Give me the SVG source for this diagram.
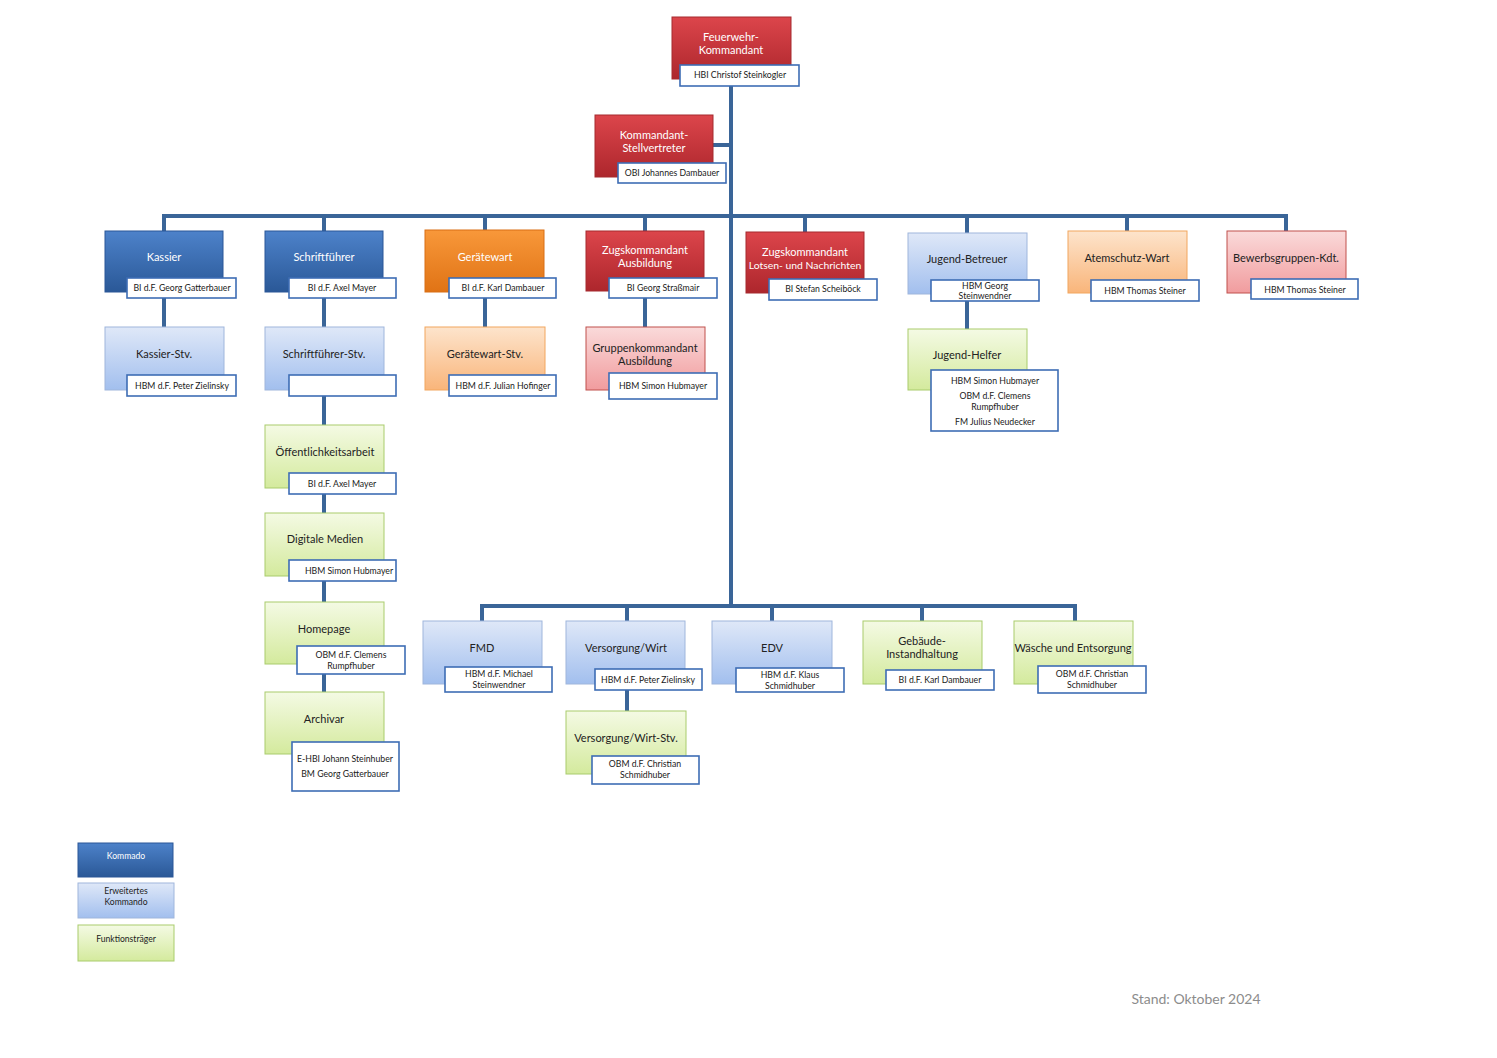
<svg xmlns="http://www.w3.org/2000/svg" width="1497" height="1058" viewBox="0 0 1497 1058">
<defs>
<linearGradient id="gDark" x1="0" y1="0" x2="0" y2="1"><stop offset="0" stop-color="#4d82ca"/><stop offset="1" stop-color="#2a5897"/></linearGradient>
<linearGradient id="gRed" x1="0" y1="0" x2="0" y2="1"><stop offset="0" stop-color="#dc454b"/><stop offset="1" stop-color="#ad262c"/></linearGradient>
<linearGradient id="gOrange" x1="0" y1="0" x2="0" y2="1"><stop offset="0" stop-color="#f8983a"/><stop offset="1" stop-color="#e07315"/></linearGradient>
<linearGradient id="gLBlue" x1="0" y1="0" x2="0" y2="1"><stop offset="0" stop-color="#dfe8f8"/><stop offset="1" stop-color="#a2bfee"/></linearGradient>
<linearGradient id="gLOrange" x1="0" y1="0" x2="0" y2="1"><stop offset="0" stop-color="#fde4cc"/><stop offset="1" stop-color="#f9b57a"/></linearGradient>
<linearGradient id="gLRed" x1="0" y1="0" x2="0" y2="1"><stop offset="0" stop-color="#fadada"/><stop offset="1" stop-color="#f19c9e"/></linearGradient>
<linearGradient id="gGreen" x1="0" y1="0" x2="0" y2="1"><stop offset="0" stop-color="#f4fae4"/><stop offset="1" stop-color="#d4ea9d"/></linearGradient>
</defs>
<style>
text{font-family:Lato,"Liberation Sans",sans-serif;text-anchor:middle}
.t{font-size:11px;fill:#222}
.tw{font-size:11px;fill:#fff}
.n{font-size:8.7px;fill:#1a1a1a}
.lg{font-size:8.6px;fill:#222}
.dark{fill:url(#gDark);stroke:#2b5797;stroke-width:1}
.red{fill:url(#gRed);stroke:#a52a2e;stroke-width:1}
.orange{fill:url(#gOrange);stroke:#d96f14;stroke-width:1}
.lblue{fill:url(#gLBlue);stroke:#9fb6dc;stroke-width:1}
.lorange{fill:url(#gLOrange);stroke:#f2a65e;stroke-width:1}
.lred{fill:url(#gLRed);stroke:#c0504d;stroke-width:1}
.green{fill:url(#gGreen);stroke:#a9cc6c;stroke-width:1}
.nb{fill:#fff;stroke:#3e6db5;stroke-width:1.6}
.c{stroke:#3a6598;stroke-width:4;fill:none}
</style>
<rect width="1497" height="1058" fill="#fff"/>

<g id="connectors">
<path class="c" d="M731 86 V606"/>
<path class="c" d="M713 145 H731"/>
<path class="c" d="M164 231 V216 H1286 V231"/>
<path class="c" d="M324 216 V231 M485 216 V230 M645 216 V231 M805 216 V232 M967 216 V233 M1127 216 V231"/>
<path class="c" d="M164 298 V327 M324 298 V692 M485 298 V327 M645 298 V327 M967 301 V329"/>
<path class="c" d="M482 621 V606 H1075 V621 M627 606 V621 M772 606 V621 M922 606 V621"/>
<path class="c" d="M627 690 V711"/>
</g>

<g id="kommandant">
<rect class="red" x="672" y="17" width="119" height="62"/>
<text class="tw" x="731" y="41">Feuerwehr-</text>
<text class="tw" x="731" y="54">Kommandant</text>
<rect class="nb" x="680" y="65" width="119" height="21"/>
<text class="n" x="740" y="78">HBI Christof Steinkogler</text>
</g>

<g id="stellvertreter">
<rect class="red" x="595" y="115" width="118" height="62"/>
<text class="tw" x="654" y="139">Kommandant-</text>
<text class="tw" x="654" y="152">Stellvertreter</text>
<rect class="nb" x="618" y="163" width="108" height="20"/>
<text class="n" x="672" y="176">OBI Johannes Dambauer</text>
</g>

<g id="kassier">
<rect class="dark" x="105" y="231" width="118" height="61"/>
<text class="tw" x="164" y="261">Kassier</text>
<rect class="nb" x="127" y="278" width="109" height="20"/>
<text class="n" x="182" y="291">BI d.F. Georg Gatterbauer</text>
</g>

<g id="schriftfuehrer">
<rect class="dark" x="265" y="231" width="118" height="61"/>
<text class="tw" x="324" y="261">Schriftführer</text>
<rect class="nb" x="289" y="278" width="107" height="20"/>
<text class="n" x="342" y="291">BI d.F. Axel Mayer</text>
</g>

<g id="geraetewart">
<rect class="orange" x="425" y="230" width="119" height="62"/>
<text class="tw" x="485" y="261">Gerätewart</text>
<rect class="nb" x="449" y="278" width="107" height="20"/>
<text class="n" x="503" y="291">BI d.F. Karl Dambauer</text>
</g>

<g id="zugskdt-ausbildung">
<rect class="red" x="586" y="231" width="118" height="60"/>
<text class="tw" x="645" y="254">Zugskommandant</text>
<text class="tw" x="645" y="267">Ausbildung</text>
<rect class="nb" x="609" y="278" width="108" height="20"/>
<text class="n" x="663" y="291">BI Georg Straßmair</text>
</g>

<g id="zugskdt-lotsen">
<rect class="red" x="746" y="232" width="118" height="61"/>
<text class="tw" x="805" y="256">Zugskommandant</text>
<text class="tw" x="805" y="269" style="font-size:10.4px">Lotsen- und Nachrichten</text>
<rect class="nb" x="769" y="279" width="108" height="21"/>
<text class="n" x="823" y="292">BI Stefan Scheiböck</text>
</g>

<g id="jugend-betreuer">
<rect class="lblue" x="908" y="233" width="119" height="61"/>
<text class="t" x="967" y="263">Jugend-Betreuer</text>
<rect class="nb" x="931" y="280" width="108" height="21"/>
<text class="n" x="985" y="289">HBM Georg</text>
<text class="n" x="985" y="299">Steinwendner</text>
</g>

<g id="atemschutz">
<rect class="lorange" x="1068" y="231" width="119" height="62"/>
<text class="t" x="1127" y="262">Atemschutz-Wart</text>
<rect class="nb" x="1091" y="280" width="108" height="21"/>
<text class="n" x="1145" y="294">HBM Thomas Steiner</text>
</g>

<g id="bewerbsgruppen">
<rect class="lred" x="1227" y="231" width="119" height="62"/>
<text class="t" x="1286" y="262">Bewerbsgruppen-Kdt.</text>
<rect class="nb" x="1251" y="279" width="107" height="20"/>
<text class="n" x="1305" y="293">HBM Thomas Steiner</text>
</g>

<g id="kassier-stv">
<rect class="lblue" x="105" y="327" width="119" height="63"/>
<text class="t" x="164" y="358">Kassier-Stv.</text>
<rect class="nb" x="127" y="375" width="109" height="21"/>
<text class="n" x="182" y="389">HBM d.F. Peter Zielinsky</text>
</g>

<g id="schriftfuehrer-stv">
<rect class="lblue" x="265" y="327" width="119" height="63"/>
<text class="t" x="324" y="358">Schriftführer-Stv.</text>
<rect class="nb" x="289" y="375" width="107" height="21"/>
</g>

<g id="geraetewart-stv">
<rect class="lorange" x="425" y="327" width="120" height="63"/>
<text class="t" x="485" y="358">Gerätewart-Stv.</text>
<rect class="nb" x="449" y="375" width="107" height="21"/>
<text class="n" x="503" y="389">HBM d.F. Julian Hofinger</text>
</g>

<g id="gruppenkdt">
<rect class="lred" x="586" y="327" width="119" height="63"/>
<text class="t" x="645" y="352">Gruppenkommandant</text>
<text class="t" x="645" y="365">Ausbildung</text>
<rect class="nb" x="609" y="373" width="108" height="26"/>
<text class="n" x="663" y="389">HBM Simon Hubmayer</text>
</g>

<g id="jugend-helfer">
<rect class="green" x="908" y="329" width="119" height="61"/>
<text class="t" x="967" y="359">Jugend-Helfer</text>
<rect class="nb" x="931" y="370" width="127" height="61"/>
<text class="n" x="995" y="384">HBM Simon Hubmayer</text>
<text class="n" x="995" y="399">OBM d.F. Clemens</text>
<text class="n" x="995" y="410">Rumpfhuber</text>
<text class="n" x="995" y="425">FM Julius Neudecker</text>
</g>

<g id="oeffentlichkeitsarbeit">
<rect class="green" x="265" y="425" width="119" height="63"/>
<text class="t" x="325" y="456">Öffentlichkeitsarbeit</text>
<rect class="nb" x="289" y="473" width="107" height="21"/>
<text class="n" x="342" y="487">BI d.F. Axel Mayer</text>
</g>

<g id="digitale-medien">
<rect class="green" x="265" y="513" width="119" height="63"/>
<text class="t" x="325" y="543">Digitale Medien</text>
<rect class="nb" x="289" y="560" width="107" height="21"/>
<text class="n" x="349" y="574">HBM Simon Hubmayer</text>
</g>

<g id="homepage">
<rect class="green" x="265" y="602" width="119" height="62"/>
<text class="t" x="324" y="633">Homepage</text>
<rect class="nb" x="297" y="646" width="108" height="28"/>
<text class="n" x="351" y="658">OBM d.F. Clemens</text>
<text class="n" x="351" y="669">Rumpfhuber</text>
</g>

<g id="archivar">
<rect class="green" x="265" y="692" width="119" height="62"/>
<text class="t" x="324" y="723">Archivar</text>
<rect class="nb" x="292" y="742" width="107" height="49"/>
<text class="n" x="345" y="762">E-HBI Johann Steinhuber</text>
<text class="n" x="345" y="777">BM Georg Gatterbauer</text>
</g>

<g id="fmd">
<rect class="lblue" x="423" y="621" width="119" height="63"/>
<text class="t" x="482" y="652">FMD</text>
<rect class="nb" x="445" y="667" width="107" height="25"/>
<text class="n" x="499" y="677">HBM d.F. Michael</text>
<text class="n" x="499" y="688">Steinwendner</text>
</g>

<g id="versorgung">
<rect class="lblue" x="566" y="621" width="119" height="63"/>
<text class="t" x="626" y="652">Versorgung/Wirt</text>
<rect class="nb" x="595" y="669" width="107" height="21"/>
<text class="n" x="648" y="683">HBM d.F. Peter Zielinsky</text>
</g>

<g id="edv">
<rect class="lblue" x="712" y="621" width="120" height="63"/>
<text class="t" x="772" y="652">EDV</text>
<rect class="nb" x="736" y="668" width="108" height="24"/>
<text class="n" x="790" y="678">HBM d.F. Klaus</text>
<text class="n" x="790" y="689">Schmidhuber</text>
</g>

<g id="gebaeude">
<rect class="green" x="863" y="621" width="119" height="63"/>
<text class="t" x="922" y="645">Gebäude-</text>
<text class="t" x="922" y="658">Instandhaltung</text>
<rect class="nb" x="886" y="670" width="108" height="20"/>
<text class="n" x="940" y="683">BI d.F. Karl Dambauer</text>
</g>

<g id="waesche">
<rect class="green" x="1014" y="621" width="119" height="63"/>
<text class="t" x="1073" y="652">Wäsche und Entsorgung</text>
<rect class="nb" x="1038" y="666" width="108" height="27"/>
<text class="n" x="1092" y="677">OBM d.F. Christian</text>
<text class="n" x="1092" y="688">Schmidhuber</text>
</g>

<g id="versorgung-stv">
<rect class="green" x="566" y="711" width="120" height="63"/>
<text class="t" x="626" y="742">Versorgung/Wirt-Stv.</text>
<rect class="nb" x="592" y="756" width="107" height="28"/>
<text class="n" x="645" y="767">OBM d.F. Christian</text>
<text class="n" x="645" y="778">Schmidhuber</text>
</g>

<g id="legend">
<rect class="dark" x="78" y="843" width="95" height="34"/>
<text x="126" y="859" class="lg" style="fill:#fff">Kommado</text>
<rect class="lblue" x="78" y="883" width="96" height="35"/>
<text x="126" y="894" class="lg">Erweitertes</text>
<text x="126" y="905" class="lg">Kommando</text>
<rect class="green" x="78" y="925" width="96" height="36"/>
<text x="126" y="942" class="lg">Funktionsträger</text>
</g>

<text x="1196" y="1004" style="font-size:14px;fill:#8c8c8c">Stand: Oktober 2024</text>
</svg>
